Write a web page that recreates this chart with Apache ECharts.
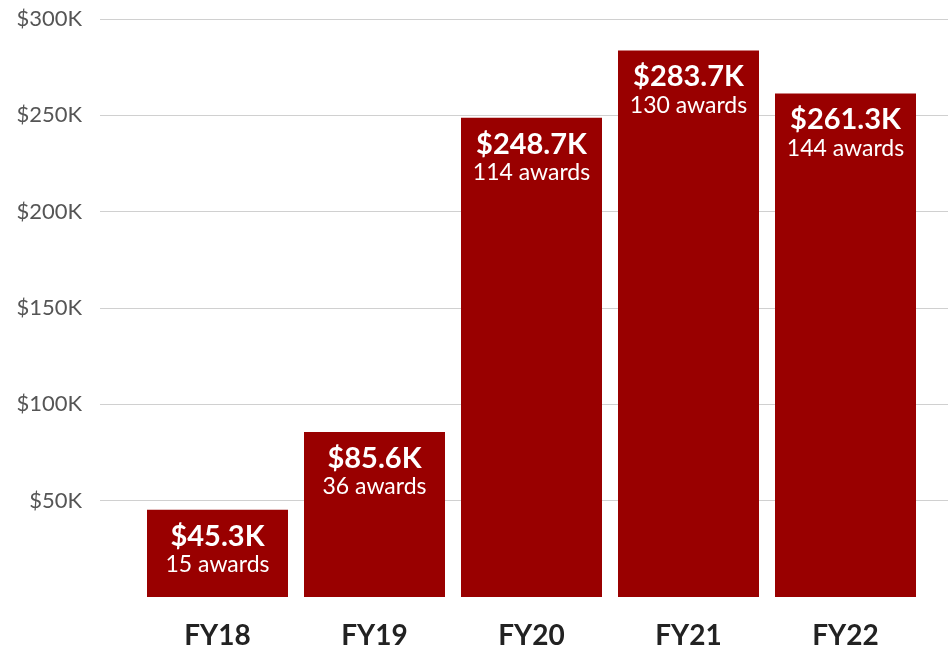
<!DOCTYPE html>
<html>
<head>
<meta charset="utf-8">
<script src="https://cdn.jsdelivr.net/npm/echarts@6/dist/echarts.min.js"></script>
<style>
  html, body { margin: 0; padding: 0; background: #fff; }
  #chart { width: 948px; height: 650px; }
</style>
</head>
<body>
<div id="chart"></div>
<script>
var years = ['FY18', 'FY19', 'FY20', 'FY21', 'FY22'];
var amounts = [45.3, 85.6, 248.7, 283.7, 261.3]; // thousands of dollars
var awards = [15, 36, 114, 130, 144];
var yTicks = [50, 100, 150, 200, 250, 300];

var chartDom = document.getElementById('chart');
var myChart = echarts.init(chartDom);
var font = 'Lato, "Source Sans Pro", sans-serif';

var option = {
  animation: false,
  textStyle: { fontFamily: font },
  grid: [
    { left: 139, right: 24, top: 19, bottom: 53 },
    { left: 100, right: 0, top: 19, bottom: 53 }
  ],
  xAxis: [
    {
      type: 'category',
      gridIndex: 0,
      data: years,
      axisLine: { show: false },
      axisTick: { show: false },
      axisLabel: {
        margin: 25,
        fontSize: 28,
        fontWeight: 'bold',
        color: '#222',
        fontFamily: font
      }
    },
    { type: 'value', gridIndex: 1, show: false }
  ],
  yAxis: [
    {
      type: 'value',
      gridIndex: 0,
      min: 0,
      max: 300,
      interval: 50,
      show: false
    },
    {
      type: 'value',
      gridIndex: 1,
      min: 0,
      max: 300,
      interval: 50,
      axisLine: { show: false },
      axisTick: { show: false },
      splitLine: { showMinLine: false, lineStyle: { color: '#d0d0d0', width: 1 } },
      axisLabel: {
        margin: 18,
        fontSize: 22,
        color: '#555',
        fontFamily: font,
        formatter: function (v) {
          return yTicks.indexOf(v) >= 0 ? '$' + v + 'K' : '';
        }
      }
    }
  ],
  series: [
    {
      type: 'bar',
      xAxisIndex: 0,
      yAxisIndex: 0,
      barWidth: 141,
      data: amounts,
      itemStyle: { color: '#990000' },
      z: 3,
      label: {
        show: true,
        position: 'insideTop',
        distance: 11,
        formatter: function (p) {
          return '{a|$' + p.value.toFixed(1) + 'K}\n{b|' + awards[p.dataIndex] + ' awards}';
        },
        rich: {
          a: { fontSize: 29, fontWeight: 'bold', color: '#fff', lineHeight: 31, fontFamily: font },
          b: { fontSize: 23, color: '#fff', lineHeight: 26, fontFamily: font }
        }
      }
    }
  ]
};

myChart.setOption(option);
</script>
</body>
</html>
